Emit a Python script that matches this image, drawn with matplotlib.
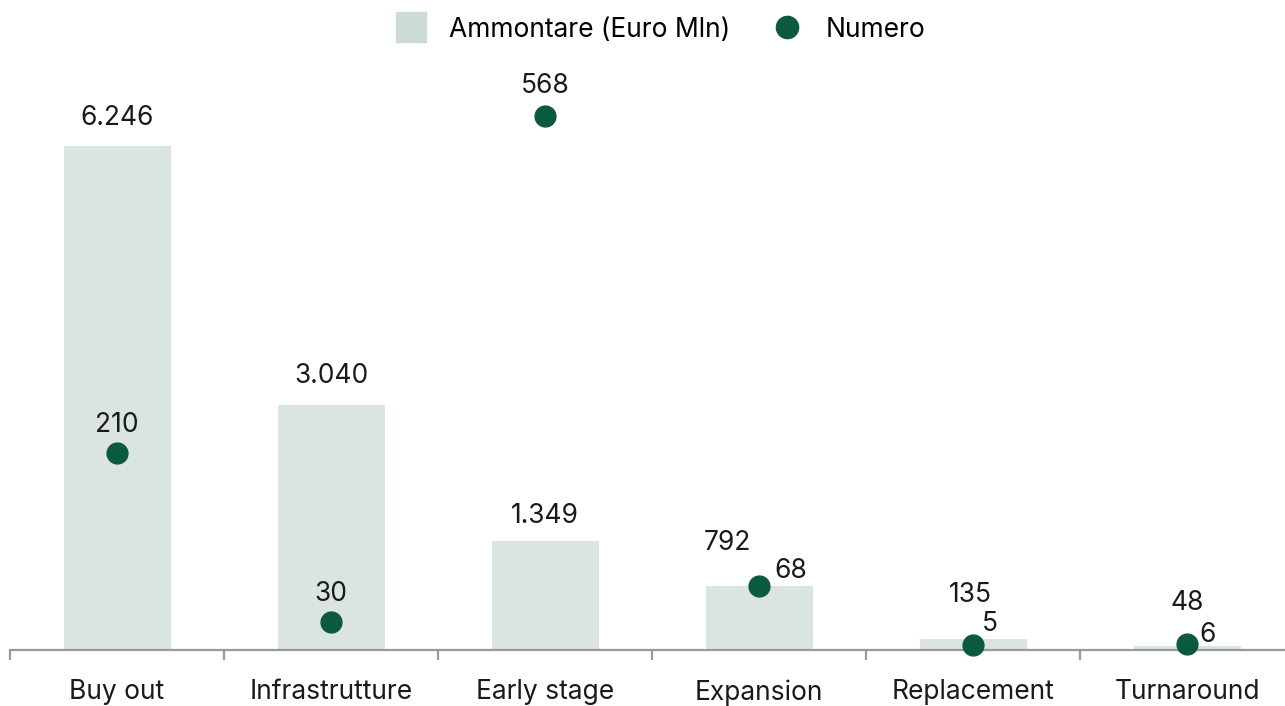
import matplotlib.pyplot as plt
from matplotlib.lines import Line2D
import numpy as np

categories = ["Buy out", "Infrastrutture", "Early stage", "Expansion", "Replacement", "Turnaround"]
ammontare = [6246, 3040, 1349, 792, 135, 48]   # Euro Mln
numero = [210, 30, 568, 68, 5, 6]

bar_color = "#dbe5e0"
legend_sq = "#ccdcd4"
dot_color = "#0b5a3f"
txt_color = "#1a1a1a"

plt.rcParams['font.family'] = ['Inter', 'DejaVu Sans']
fs = 19

fig = plt.figure(figsize=(12.85, 7.06), dpi=100)
ax = fig.add_axes([10 / 1285, 56 / 706, 1284 / 1285, 590 / 706])
ax2 = ax.twinx()

x = np.arange(len(categories))
ax.bar(x, ammontare, width=0.5, color=bar_color, zorder=1)
ax2.plot(x, numero, 'o', markersize=15, color=dot_color, zorder=3, clip_on=False)

ax.set_xlim(-0.5, 5.5)
ax.set_ylim(0, 7311)
ax2.set_ylim(0, 628)

# label offsets in points (bar labels, dot labels)
bar_off = [(0, 20), (0, 21), (0, 18), (-23, 31), (-2, 32), (0, 31)]
dot_off = [(0, 20), (0, 20), (0, 22), (23, 11), (12, 15), (15, 7)]

for i, v in enumerate(ammontare):
    lab = f"{v:,}".replace(",", ".")
    ax.annotate(lab, (x[i], v), xytext=bar_off[i], textcoords='offset points',
                ha='center', va='center', fontsize=fs, color=txt_color)
for i, v in enumerate(numero):
    ax2.annotate(str(v), (x[i], v), xytext=dot_off[i], textcoords='offset points',
                 ha='center', va='center', fontsize=fs, color=txt_color, zorder=4)

for a in (ax, ax2):
    for s in a.spines.values():
        s.set_visible(False)
    a.set_yticks([])
ax.spines['bottom'].set_visible(True)
ax.spines['bottom'].set_color("#9a9a9a")
ax.spines['bottom'].set_linewidth(1.6)

ax.set_xticks(x)
ax.set_xticklabels(categories, fontsize=fs, color=txt_color)
ax.tick_params(axis='x', which='major', length=0, pad=21)
ax.set_xticks(np.arange(-0.5, 6.0, 1.0), minor=True)
ax.tick_params(axis='x', which='minor', length=7, width=1.6, color="#9a9a9a", direction='out')

handles = [
    Line2D([], [], marker='s', linestyle='none', markersize=22, color=legend_sq),
    Line2D([], [], marker='o', linestyle='none', markersize=16, color=dot_color),
]
fig.legend(handles, ["Ammontare (Euro Mln)", "Numero"], loc='upper center',
           bbox_to_anchor=(0.514, 1.01), ncol=2, frameon=False, fontsize=fs,
           handletextpad=0.9, columnspacing=1.6, handlelength=1.1)

fig.savefig("out.png", dpi=100)
